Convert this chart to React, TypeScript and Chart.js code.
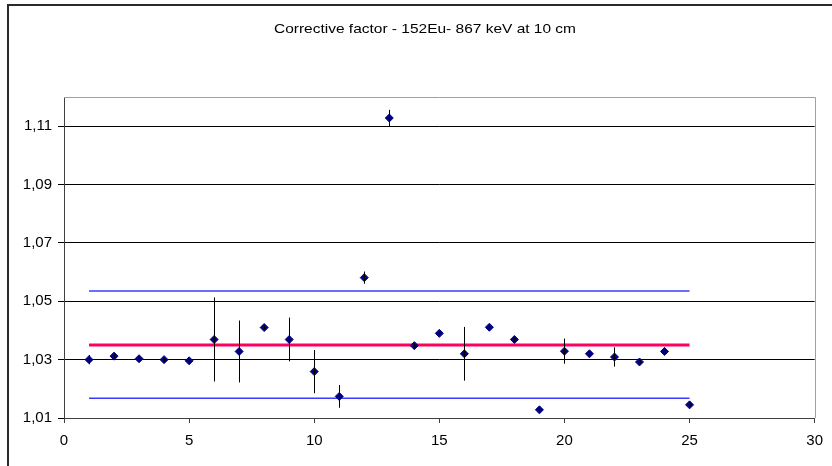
import React, { useEffect, useRef } from 'react';
import { Chart, registerables } from 'chart.js';

Chart.register(...registerables);

const TITLE = 'Corrective factor - 152Eu- 867 keV at 10 cm';

const runs = [1, 2, 3, 4, 5, 6, 7, 8, 9, 10, 11, 12, 13, 14, 15, 16, 17, 18, 19, 20, 21, 22, 23, 24, 25];
const factors = [
  1.0300, 1.0312, 1.0303, 1.0300, 1.0296, 1.0369, 1.0328, 1.0410, 1.0369, 1.0259,
  1.0174, 1.0581, 1.1128, 1.0348, 1.0390, 1.0320, 1.0411, 1.0369, 1.0128, 1.0329,
  1.0320, 1.0309, 1.0292, 1.0328, 1.0145,
];
const errors = [
  0.0016, 0.0006, 0.0006, 0.0006, 0.0006, 0.0144, 0.0106, 0.0006, 0.0075, 0.0074,
  0.0039, 0.0021, 0.0028, 0.0006, 0.0006, 0.0092, 0.0006, 0.0006, 0.0006, 0.0043,
  0.0006, 0.0033, 0.0006, 0.0006, 0.0006,
];
const meanFactor = 1.035;
const upperLimit = 1.0535;
const lowerLimit = 1.0168;

const yTicks = [1.01, 1.03, 1.05, 1.07, 1.09, 1.11];
const yMin = 1.01;
const yMax = 1.12;
const xMin = 0;
const xMax = 30;
const xStep = 5;

const FONT = "'Liberation Sans', Arial, sans-serif";

const framePlugin = {
  id: 'frame',
  beforeDraw(chart: any) {
    const { ctx, width, height } = chart;
    ctx.save();
    ctx.fillStyle = '#ffffff';
    ctx.fillRect(0, 0, width, height);
    ctx.strokeStyle = '#2a2a2a';
    ctx.lineWidth = 2;
    ctx.beginPath();
    ctx.moveTo(8, height);
    ctx.lineTo(8, 5);
    ctx.lineTo(width, 5);
    ctx.stroke();
    // title, stretched horizontally like the source picture
    ctx.fillStyle = '#000000';
    ctx.font = `13px ${FONT}`;
    ctx.textAlign = 'center';
    ctx.textBaseline = 'middle';
    const w = ctx.measureText(TITLE).width;
    const sx = w > 0 ? 302 / w : 1;
    ctx.translate(425, 29);
    ctx.scale(sx, 1);
    ctx.fillText(TITLE, 0, 0);
    ctx.restore();
  },
  beforeDatasetsDraw(chart: any) {
    const { ctx, chartArea } = chart;
    ctx.save();
    ctx.strokeStyle = '#a0a0a0';
    ctx.lineWidth = 1;
    ctx.beginPath();
    ctx.moveTo(chartArea.left, Math.round(chartArea.top) + 0.5);
    ctx.lineTo(Math.round(chartArea.right) + 0.5, Math.round(chartArea.top) + 0.5);
    ctx.lineTo(Math.round(chartArea.right) + 0.5, chartArea.bottom);
    ctx.stroke();
    ctx.restore();
  },
};

const errorBarPlugin = {
  id: 'errorBars',
  afterDatasetsDraw(chart: any) {
    const { ctx, scales } = chart;
    const xs = scales.x;
    const ys = scales.y;
    ctx.save();
    ctx.strokeStyle = '#000000';
    ctx.lineWidth = 1;
    runs.forEach((r, i) => {
      const px = Math.round(xs.getPixelForValue(r)) + 0.5;
      const top = ys.getPixelForValue(factors[i] + errors[i]);
      const bot = ys.getPixelForValue(factors[i] - errors[i]);
      ctx.beginPath();
      ctx.moveTo(px, top);
      ctx.lineTo(px, bot);
      ctx.stroke();
    });
    ctx.restore();
  },
};

export default function App() {
  const ref = useRef<HTMLCanvasElement | null>(null);

  useEffect(() => {
    if (!ref.current) return;
    const first = runs[0];
    const last = runs[runs.length - 1];
    const chart = new Chart(ref.current, {
      type: 'scatter',
      data: {
        datasets: [
          {
            label: 'Corrective factor',
            data: runs.map((x, i) => ({ x, y: factors[i] })),
            pointStyle: 'rectRot',
            pointRadius: 4,
            pointBackgroundColor: '#000080',
            pointBorderColor: '#000080',
            pointBorderWidth: 1,
            order: 0,
          } as any,
          {
            label: 'Mean',
            data: [{ x: first, y: meanFactor }, { x: last, y: meanFactor }],
            showLine: true,
            borderColor: '#ff0060',
            borderWidth: 3,
            pointRadius: 0,
            order: 1,
          } as any,
          {
            label: 'Upper',
            data: [{ x: first, y: upperLimit }, { x: last, y: upperLimit }],
            showLine: true,
            borderColor: '#3b3bff',
            borderWidth: 1.5,
            pointRadius: 0,
            order: 2,
          } as any,
          {
            label: 'Lower',
            data: [{ x: first, y: lowerLimit }, { x: last, y: lowerLimit }],
            showLine: true,
            borderColor: '#3b3bff',
            borderWidth: 1.5,
            pointRadius: 0,
            order: 2,
          } as any,
        ],
      },
      options: {
        animation: false,
        responsive: false,
        devicePixelRatio: 1,
        layout: { padding: { left: 0, right: 12, top: 97, bottom: 0 } },
        plugins: {
          legend: { display: false },
          tooltip: { enabled: false },
          title: { display: false },
        },
        scales: {
          x: {
            type: 'linear',
            min: xMin,
            max: xMax,
            afterFit: (s: any) => { s.height = 48; },
            ticks: {
              stepSize: xStep,
              color: '#000000',
              padding: 9,
              font: { family: FONT, size: 15 },
              maxRotation: 0,
            },
            grid: {
              drawOnChartArea: false,
              drawTicks: true,
              tickLength: 5,
              color: '#404040',
            },
            border: { display: true, color: '#404040', width: 1 },
          },
          y: {
            type: 'linear',
            min: yMin,
            max: yMax,
            afterFit: (s: any) => { s.width = 64; },
            afterBuildTicks: (s: any) => { s.ticks = yTicks.map((v) => ({ value: v })); },
            ticks: {
              color: '#000000',
              padding: 6,
              font: { family: FONT, size: 15 },
              callback: (v: any) => Number(v).toFixed(2).replace('.', ','),
            },
            grid: {
              color: '#000000',
              lineWidth: 1,
              drawTicks: true,
              tickLength: 6,
            },
            border: { display: true, color: '#404040', width: 1 },
          },
        },
      },
      plugins: [framePlugin, errorBarPlugin],
    } as any);
    return () => chart.destroy();
  }, []);

  return (
    <div style={{ position: 'fixed', left: 0, top: 0, width: 832, height: 466, background: '#fff' }}>
      <canvas ref={ref} width={832} height={466} style={{ display: 'block' }} />
    </div>
  );
}
